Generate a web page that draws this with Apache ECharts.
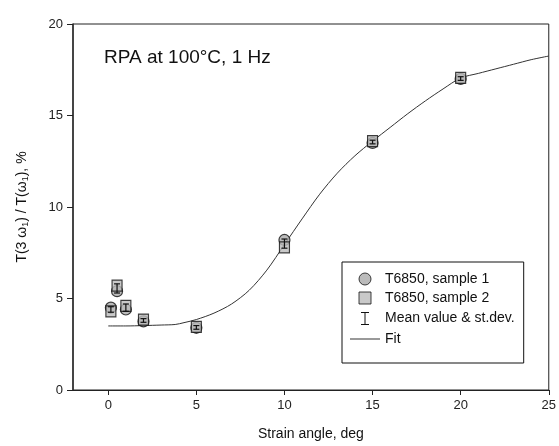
<!DOCTYPE html>
<html><head><meta charset="utf-8">
<script src="https://cdn.jsdelivr.net/npm/echarts@6/dist/echarts.min.js"></script>
<style>html,body{margin:0;padding:0;background:#fff}#c{width:559px;height:446px}</style>
</head><body><div id="c"></div>
<script>
// Strain angle, deg
var strainAngles = [0.15, 0.5, 1, 2, 5, 10, 15, 20];
var sample1 = [4.5, 5.4, 4.4, 3.75, 3.4, 8.2, 13.5, 17.0];
var sample2 = [4.3, 5.7, 4.6, 3.85, 3.45, 7.8, 13.6, 17.05];
var meanVals = [4.4, 5.55, 4.5, 3.8, 3.42, 8.0, 13.55, 17.02];
var stdDev = [0.15, 0.25, 0.2, 0.1, 0.1, 0.25, 0.1, 0.1];
var fitX = [0, 1, 2, 3, 3.8, 4.3, 5, 6, 7, 8, 9, 10, 11, 12, 13, 14, 15, 16, 17, 18, 19, 20, 21, 22, 23, 24, 25];
var fitY = [3.5, 3.5, 3.52, 3.55, 3.58, 3.68, 3.85, 4.2, 4.7, 5.45, 6.55, 7.95, 9.35, 10.7, 11.85, 12.8, 13.6, 14.35, 15.1, 15.8, 16.45, 17.05, 17.3, 17.55, 17.8, 18.05, 18.25];
var xTicks = [0, 5, 10, 15, 20, 25];
var yTicks = [0, 5, 10, 15, 20];

function pairs(xs, ys){ return xs.map(function(x,i){return [x, ys[i]];}); }
var errData = strainAngles.map(function(x,i){ return [x, meanVals[i], meanVals[i]-stdDev[i], meanVals[i]+stdDev[i]]; });

var chart = echarts.init(document.getElementById('c'));
var font = 'Liberation Sans, Arial, sans-serif';
chart.setOption({
  animation: false,
  title: { text: 'RPA at 100°C, 1 Hz', left: 99, top: 43,
    textStyle: { fontFamily: font, fontSize: 19, fontWeight: 'normal', color: '#111' } },
  grid: { left: 73, right: 4, top: 24, bottom: 53, show: true, borderColor: '#222', borderWidth: 1 },
  legend: {
    orient: 'vertical', left: 342, top: 262, padding: [10, 9, 17, 8],
    itemWidth: 30, itemHeight: 12, itemGap: 5, borderColor: '#111', borderWidth: 1,
    textStyle: { fontFamily: font, fontSize: 14, lineHeight: 14, color: '#111' },
    data: [
      { name: 'T6850, sample 1', icon: 'circle', itemStyle: { color: '#aaa', borderColor: '#111', borderWidth: 1 } },
      { name: 'T6850, sample 2', icon: 'path://M0,0H10V10H0Z', itemStyle: { color: '#bbb', borderColor: '#111', borderWidth: 1 } },
      { name: 'Mean value & st.dev.', icon: 'path://M0,0H6M3,0V9M0,9H6', itemStyle: { color: 'none', borderColor: '#111', borderWidth: 1 } },
      { name: 'Fit', icon: 'path://M0,0H30V1H0Z', itemStyle: { color: '#333', borderWidth: 0 } }
    ]
  },
  xAxis: {
    type: 'value', min: -2, max: 25,
    name: 'Strain angle, deg', nameLocation: 'middle', nameGap: 37,
    nameTextStyle: { fontFamily: font, fontSize: 14, color: '#111' },
    axisLine: { onZero: false, lineStyle: { color: '#222', width: 1 } },
    axisTick: { show: true, length: 5, customValues: xTicks, lineStyle: { color: '#222' } },
    axisLabel: { customValues: xTicks, margin: 9, fontFamily: font, fontSize: 13, color: '#222' },
    splitLine: { show: false }
  },
  yAxis: {
    type: 'value', min: 0, max: 20, interval: 5,
    name: '{a|T(3 ω}{s|1}{a|) / T(ω}{s|1}{a|), %}', nameLocation: 'middle', nameGap: 43,
    nameTextStyle: { fontFamily: font, fontSize: 14, color: '#111',
      rich: { a: { fontFamily: font, fontSize: 14, color: '#111' },
              s: { fontFamily: font, fontSize: 9, color: '#111', padding: [7, 0, 0, 0] } } },
    axisLine: { onZero: false, lineStyle: { color: '#333', width: 1.6 } },
    axisTick: { show: true, length: 6, lineStyle: { color: '#222' } },
    axisLabel: { customValues: yTicks, margin: 10, fontFamily: font, fontSize: 13, color: '#222' },
    splitLine: { show: false }
  },
  series: [
    { name: 'Fit', type: 'line', data: pairs(fitX, fitY), symbol: 'none', smooth: 0.3,
      lineStyle: { color: '#333', width: 1 }, itemStyle: { color: '#333' }, z: 1 },
    { name: 'T6850, sample 1', type: 'scatter', data: pairs(strainAngles, sample1), symbol: 'circle', symbolSize: 11,
      itemStyle: { color: '#aaa', borderColor: '#111', borderWidth: 1.2 }, z: 3 },
    { name: 'T6850, sample 2', type: 'scatter', data: pairs(strainAngles, sample2), symbol: 'rect', symbolSize: [10, 11],
      itemStyle: { color: '#bbb', borderColor: '#111', borderWidth: 1.2 }, z: 4 },
    { name: 'Mean value & st.dev.', type: 'custom', data: errData, z: 5,
      itemStyle: { color: '#111' },
      renderItem: function(params, api){
        var x = api.value(0), lo = api.coord([x, api.value(2)]), hi = api.coord([x, api.value(3)]);
        var w = 3, st = { stroke: '#111', lineWidth: 1.2 };
        return { type: 'group', children: [
          { type: 'line', shape: { x1: lo[0], y1: lo[1], x2: hi[0], y2: hi[1] }, style: st },
          { type: 'line', shape: { x1: lo[0]-w, y1: lo[1], x2: lo[0]+w, y2: lo[1] }, style: st },
          { type: 'line', shape: { x1: hi[0]-w, y1: hi[1], x2: hi[0]+w, y2: hi[1] }, style: st }
        ]};
      },
      encode: { x: 0, y: [1, 2, 3] }
    }
  ]
});
</script></body></html>
